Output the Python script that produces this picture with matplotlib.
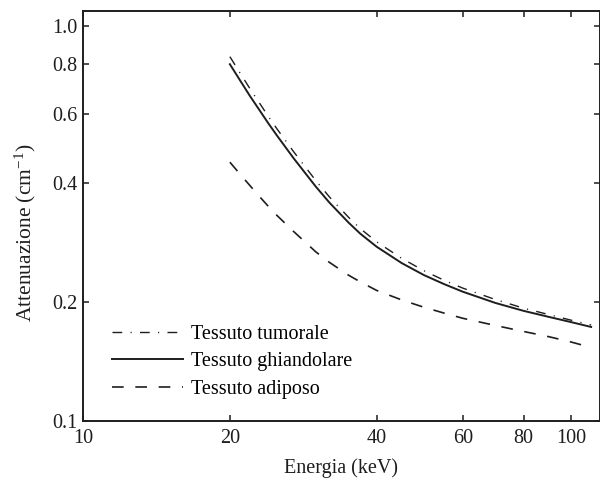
import numpy as np
import matplotlib
matplotlib.use("Agg")
import matplotlib.pyplot as plt
from matplotlib.ticker import FixedLocator, FixedFormatter, NullLocator

# energies (keV) and linear attenuation (1/cm)
energy = [20, 21, 22, 23, 24, 25, 27, 30, 32, 35, 37, 40, 45, 50, 55, 60,
          70, 80, 90, 100, 110]
tumorale = [0.836, 0.759, 0.693, 0.638, 0.589, 0.548, 0.481, 0.406, 0.369,
            0.328, 0.307, 0.284, 0.258, 0.240, 0.227, 0.217, 0.203, 0.193,
            0.186, 0.180, 0.175]
ghiandolare = [0.800, 0.727, 0.664, 0.612, 0.566, 0.527, 0.463, 0.392, 0.357,
               0.318, 0.298, 0.276, 0.251, 0.234, 0.222, 0.2125, 0.199,
               0.190, 0.1835, 0.178, 0.173]
adiposo = [0.452, 0.421, 0.394, 0.370, 0.349, 0.331, 0.302, 0.268, 0.252,
           0.234, 0.225, 0.214, 0.2025, 0.194, 0.1875, 0.182, 0.1745,
           0.1685, 0.1635, 0.1585, 0.1535]

xticks = [10, 20, 40, 60, 80, 100]
xticklabels = ["10", "20", "40", "60", "80", "100"]
yticks = [0.1, 0.2, 0.4, 0.6, 0.8, 1.0]
yticklabels = ["0.1", "0.2", "0.4", "0.6", "0.8", "1.0"]

plt.rcParams["font.family"] = ["Liberation Serif", "DejaVu Serif"]
plt.rcParams["mathtext.fontset"] = "custom"
plt.rcParams["mathtext.rm"] = "Liberation Serif"
plt.rcParams["mathtext.it"] = "Liberation Serif:italic"

ink = "#1e1e1e"

fig = plt.figure(figsize=(6, 4.8), dpi=100)
ax = fig.add_axes([83 / 600, 1 - 421 / 480, 517 / 600, 410 / 480])

ax.plot(energy, tumorale, color=ink, lw=1.0, ls=(0, (7, 6, 0.8, 6)),
        label="Tessuto tumorale")
ax.plot(energy, ghiandolare, color=ink, lw=1.4, ls="-",
        label="Tessuto ghiandolare")
ax.plot(energy, adiposo, color=ink, lw=1.2, ls=(0, (7, 7)),
        label="Tessuto adiposo")

ax.set_xscale("log")
ax.set_yscale("log")
ax.set_xlim(10, 114.7)
ax.set_ylim(0.1, 1.091)

ax.xaxis.set_major_locator(FixedLocator(xticks))
ax.xaxis.set_major_formatter(FixedFormatter(xticklabels))
ax.yaxis.set_major_locator(FixedLocator(yticks))
ax.yaxis.set_major_formatter(FixedFormatter(yticklabels))
ax.xaxis.set_minor_locator(NullLocator())
ax.yaxis.set_minor_locator(NullLocator())

ax.tick_params(which="major", direction="in", length=4, width=1.1,
               top=True, right=True, labelsize=14.5, colors=ink)
ax.tick_params(axis="x", pad=6)
ax.tick_params(axis="y", pad=4)
for s in ax.spines.values():
    s.set_linewidth(1.4)
    s.set_color(ink)

ax.set_xlabel("Energia (keV)", fontsize=14.5, color=ink, labelpad=7)
ax.set_ylabel(r"Attenuazione (cm$^{-1}$)", fontsize=15.5, color=ink)
ax.yaxis.set_label_coords(-0.087, 0.4585)

ax.legend(loc="lower left", bbox_to_anchor=(0.04, 0.034), frameon=False,
          fontsize=14.5, handlelength=3.55, handletextpad=0.4,
          labelspacing=0.42, borderaxespad=0)

fig.savefig("out.png", dpi=100)
